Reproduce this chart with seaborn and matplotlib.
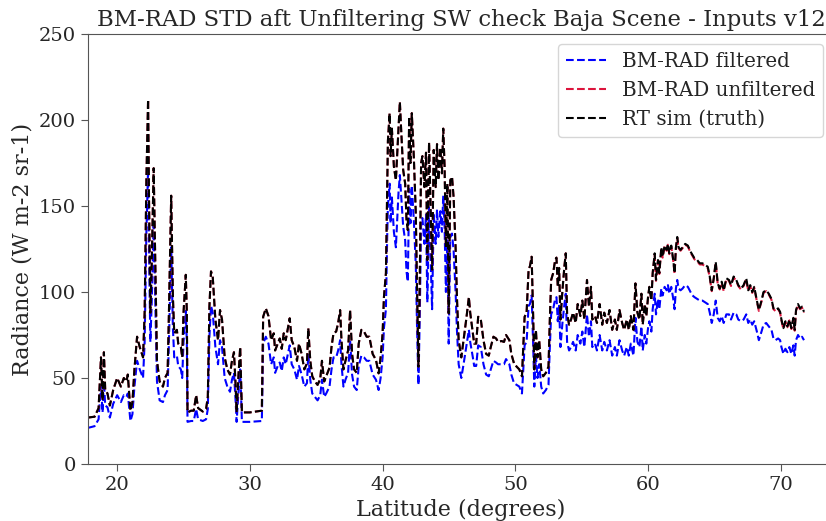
import matplotlib
matplotlib.use("Agg")
import matplotlib.pyplot as plt
import seaborn as sns
import pandas as pd

latitude = [17.8, 18.3, 18.6, 18.78, 18.9, 19.0, 19.1, 19.27, 19.45, 19.7, 20.0, 20.28, 20.5, 20.7, 20.8, 21.0, 21.15, 21.3, 21.5, 21.7,
            21.95, 22.07, 22.2, 22.33, 22.4, 22.5, 22.6, 22.75, 22.87, 23.0, 23.2, 23.45, 23.6, 23.8, 23.9, 24.07, 24.2, 24.3, 24.5, 24.6,
            24.8, 24.9, 25.0, 25.17, 25.25, 25.3, 25.57, 25.77, 25.95, 26.1, 26.45, 26.7, 26.83, 26.95, 27.07, 27.2, 27.4, 27.6, 27.75, 27.9,
            28.1, 28.3, 28.5, 28.65, 28.8, 28.93, 29.0, 29.15, 29.27, 29.4, 30.0, 30.9, 31.0, 31.2, 31.4, 31.6, 31.8, 31.9, 32.1, 32.25,
            32.4, 32.55, 32.7, 33.0, 33.15, 33.35, 33.55, 33.7, 33.9, 34.1, 34.3, 34.4, 34.55, 34.7, 34.9, 35.1, 35.3, 35.43, 35.6, 35.75,
            36.0, 36.15, 36.3, 36.5, 36.65, 36.8, 36.9, 37.05, 37.2, 37.4, 37.55, 37.7, 37.85, 38.05, 38.2, 38.4, 38.6, 38.8, 39.0, 39.25,
            39.5, 39.7, 39.85, 40.0, 40.1, 40.25, 40.35, 40.4, 40.53, 40.6, 40.7, 40.85, 41.0, 41.2, 41.3, 41.4, 41.55, 41.7, 41.8, 41.9,
            42.0, 42.1, 42.2, 42.35, 42.5, 42.6, 42.7, 42.8, 42.9, 43.0, 43.15, 43.27, 43.37, 43.5, 43.63, 43.73, 43.85, 44.0, 44.1, 44.2,
            44.35, 44.47, 44.57, 44.67, 44.77, 44.88, 44.98, 45.1, 45.23, 45.35, 45.5, 45.6, 45.73, 45.93, 46.1, 46.3, 46.5, 46.6, 46.8, 46.9,
            47.05, 47.2, 47.4, 47.6, 47.8, 48.0, 48.15, 48.35, 48.55, 48.7, 48.95, 49.15, 49.3, 49.55, 49.7, 49.9, 50.1, 50.3, 50.5, 50.6,
            50.7, 50.85, 51.0, 51.1, 51.23, 51.35, 51.43, 51.55, 51.67, 51.8, 51.95, 52.1, 52.3, 52.5, 52.6, 52.7, 52.85, 53.0, 53.1, 53.2,
            53.3, 53.4, 53.55, 53.7, 53.8, 53.9, 54.05, 54.2, 54.35, 54.55, 54.7, 54.9, 55.05, 55.2, 55.4, 55.55, 55.7, 55.8, 56.0, 56.15,
            56.35, 56.55, 56.7, 56.9, 57.1, 57.3, 57.5, 57.65, 57.85, 58.05, 58.2, 58.4, 58.55, 58.7, 58.9, 59.05, 59.2, 59.35, 59.5, 59.6,
            59.75, 59.87, 60.0, 60.1, 60.25, 60.35, 60.5, 60.6, 60.75, 60.85, 61.0, 61.1, 61.25, 61.4, 61.5, 61.6, 61.75, 61.9, 62.0, 62.1,
            62.2, 62.3, 62.45, 62.6, 62.8, 63.0, 63.2, 63.35, 63.5, 63.7, 63.9, 64.1, 64.3, 64.5, 64.65, 64.8, 64.95, 65.1, 65.25, 65.4,
            65.55, 65.7, 65.9, 66.1, 66.25, 66.45, 66.65, 66.8, 67.0, 67.2, 67.4, 67.55, 67.7, 67.85, 68.0, 68.2, 68.35, 68.55, 68.7, 68.9,
            69.1, 69.3, 69.45, 69.6, 69.8, 69.95, 70.05, 70.2, 70.35, 70.5, 70.65, 70.8, 70.95, 71.05, 71.15, 71.3, 71.45, 71.6, 71.75]

rt_sim_truth = [27, 27.5, 32.5, 62, 37, 65, 43, 41, 34, 43, 50, 45, 50, 48, 52, 31, 36, 55, 74, 68,
                62, 88, 165, 212, 155, 88, 115, 172, 117, 60, 48, 45, 50, 53, 88, 156, 97, 76, 78, 70,
                68, 62, 88, 110, 88, 30, 31, 31, 40, 32.5, 30.5, 32, 39, 91.5, 112, 109, 84, 72, 89.5, 84,
                62, 55, 52, 60, 65, 45, 30, 53, 68, 30, 30, 31, 85.6, 90.5, 86, 72, 76, 66, 70, 73,
                67, 76, 72, 84.7, 72, 68, 60, 70, 64, 55, 58.5, 79, 60, 51, 48, 46, 49.4, 60, 48, 51,
                56, 68, 76, 77, 82, 89.5, 72, 55, 60, 66, 89.5, 64, 55, 53, 70, 78, 77, 74, 74, 64,
                60.5, 52.7, 62, 76, 97, 111, 165, 188, 204, 179, 195, 173, 165, 196, 210.6, 194, 171, 163, 142, 136,
                202, 175, 204, 179, 146, 99, 56.6, 107, 175, 179, 161, 181, 118.6, 187, 146, 113, 182.6, 161, 186, 165,
                184, 169, 195, 173, 126, 163, 87.6, 165, 167, 155, 126, 97, 72, 62, 72, 84, 97, 88, 76, 70,
                70, 85.6, 84, 72, 64, 63, 68, 74, 73, 71, 71.5, 71, 75, 72, 64, 58.5, 56.6, 55, 51, 68,
                85.6, 88, 113, 115, 120.5, 84, 55, 78, 62, 72, 55, 51, 53, 56.6, 84, 107, 111, 118.6, 120, 103,
                114, 84, 101, 115, 122.5, 87.6, 81, 84, 88, 82, 93, 86, 95, 84, 107, 91.5, 103, 84, 86, 82,
                93, 81, 88, 82, 89.5, 78, 84, 78, 89.5, 82, 78, 84, 78, 86, 78, 105, 88, 84, 99, 81,
                93, 86, 97, 103, 95, 111, 122.5, 107, 118.6, 111, 126, 120.5, 127, 124.5, 128, 122.5, 127, 118.6, 111, 126,
                132, 126, 124.5, 126, 128, 127, 123.5, 121.5, 119.6, 118.6, 116.7, 116.7, 115.7, 114.7, 109, 101, 108, 117.6, 105, 102,
                106, 101, 108, 107, 104, 109, 107, 104, 102, 104, 108, 101, 104, 100, 103, 95, 89.5, 95, 100, 101,
                99, 96, 90.5, 89.5, 90.5, 88.5, 84, 79, 83, 80, 84, 79, 85, 78, 89.5, 93, 90.5, 91.5, 88.5]

bm_rad_unfiltered = [27, 27.5, 32.5, 62, 37, 65, 43, 41, 34, 43, 50, 45, 50, 48, 52, 31, 36, 55, 74, 68,
                     62, 88, 165, 212, 155, 88, 115, 172, 117, 60, 48, 45, 50, 53, 88, 156, 97, 76, 78, 70,
                     68, 62, 88, 110, 88, 30, 31, 31, 40, 32.5, 30.5, 32, 39, 91.5, 112, 109, 84, 72, 89.5, 84,
                     62, 55, 52, 60, 65, 45, 30, 53, 68, 30, 30, 31, 85.6, 90.5, 86, 72, 76, 66, 70, 73,
                     67, 76, 72, 84.7, 72, 68, 60, 70, 64, 55, 58.5, 79, 60, 51, 48, 46, 49.4, 60, 48, 51,
                     56, 68, 76, 77, 82, 89.5, 72, 55, 60, 66, 89.5, 64, 55, 53, 70, 78, 77, 74, 74, 64,
                     60.5, 52.7, 62, 76, 97, 111, 165, 188, 204, 179, 195, 173, 165, 196, 210.6, 194, 171, 163, 142, 136,
                     202, 175, 204, 179, 146, 99, 56.6, 107, 175, 179, 161, 181, 118.6, 187, 146, 113, 182.6, 161, 186, 165,
                     184, 169, 195, 173, 126, 163, 87.6, 165, 167, 155, 126, 97, 72, 62, 72, 84, 97, 88, 76, 70,
                     70, 85.6, 84, 72, 64, 63, 68, 74, 73, 71, 71.5, 71, 75, 72, 64, 58.5, 56.6, 55, 51, 68,
                     85.6, 88, 113, 115, 120.5, 84, 55, 78, 62, 72, 55, 51, 53, 56.6, 84, 107, 111, 118.6, 120, 103,
                     114, 84, 101, 115, 122.5, 87.6, 81, 84, 88, 82, 93, 86, 95, 84, 107, 91.5, 103, 84, 86, 82,
                     93, 81, 88, 82, 89.5, 78, 84, 78, 89.5, 82, 78, 84, 78, 86, 78, 105, 88, 84, 99, 81,
                     93, 86, 97, 103, 95, 111, 122, 106.5, 118, 110.5, 125.5, 120, 126.5, 124, 127.5, 122, 126.5, 118, 110.5, 125.5,
                     131.5, 125.5, 124, 125.5, 127.5, 126.5, 123, 121, 119, 118, 116, 116, 115, 114, 108.5, 100.5, 107.5, 117, 104.5, 101.5,
                     105.5, 100.5, 107.5, 106.5, 103.5, 108.5, 106.5, 103.5, 101.5, 103.5, 107.5, 100.5, 103.5, 99.5, 102.5, 94.5, 89, 94.5, 99.5, 100.5,
                     98.5, 95.5, 90, 89, 90, 88, 83.5, 78.5, 82.5, 79.5, 83.5, 78.5, 84.5, 77.5, 89, 92.5, 90, 91, 88]

bm_rad_filtered = [21, 22, 26, 46, 30, 48, 34, 33, 27, 35, 40, 36, 40, 39, 41, 25, 29, 45, 60, 55,
                   50, 71, 134, 172, 126, 71, 93, 139, 95, 48, 37, 36, 40, 43, 71, 126, 79, 62, 63, 57,
                   55, 50, 71, 89, 71, 24.5, 25, 25, 32, 26, 25, 26, 32, 74, 92, 88, 68, 58, 72, 68,
                   50, 45, 42, 49, 53, 36, 24.5, 43, 55, 24.5, 24.5, 25, 70, 74, 70, 58, 62, 53, 57, 59,
                   54, 62, 58, 69, 58, 55, 49, 57, 52, 45, 47, 64, 49, 41, 39, 37, 40, 49, 39, 41,
                   45, 55, 62, 62, 66, 72, 58, 45, 49, 53, 72, 52, 45, 43, 57, 63, 62, 60, 60, 52,
                   49, 43, 50, 62, 79, 90, 134, 150, 163, 140, 155, 135, 126, 158, 168, 156, 138, 130, 112, 106,
                   160, 140, 162, 142, 116, 78, 46, 86, 140, 143, 128, 145, 94, 150, 116, 90, 146, 128, 148, 132,
                   147, 135, 156, 138, 100, 130, 70, 132, 134, 124, 100, 78, 58, 50, 58, 68, 78, 71, 62, 57,
                   57, 69, 68, 58, 52, 51, 55, 60, 59, 58, 58, 58, 61, 58, 52, 47, 46, 45, 41, 55,
                   69, 71, 92, 93, 98, 68, 45, 63, 50, 58, 45, 41, 43, 46, 68, 87, 90, 96, 97, 83,
                   92, 68, 82, 93, 99, 71, 66, 68, 71, 66, 75, 70, 77, 68, 87, 74, 83, 68, 70, 66,
                   75, 66, 71, 66, 72, 63, 68, 63, 72, 66, 63, 68, 63, 70, 63, 85, 71, 68, 80, 66,
                   75, 70, 79, 83, 77, 90, 99, 87, 96, 90, 102, 98, 103, 101, 104, 99, 103, 96, 90, 102,
                   107, 102, 101, 102, 104, 103, 100, 98, 97, 96, 95, 95, 94, 93, 88, 82, 87, 95, 85, 83,
                   86, 82, 87, 87, 84, 88, 87, 84, 83, 84, 87, 82, 84, 81, 83, 77, 72, 77, 81, 82,
                   80, 78, 73, 72, 73, 72, 68, 64, 67, 65, 68, 64, 69, 63, 72, 75, 73, 74, 72]

series_labels = ["BM-RAD filtered", "BM-RAD unfiltered", "RT sim (truth)"]
series_colors = ["blue", "crimson", "black"]
x_ticks = [20, 30, 40, 50, 60, 70]
y_ticks = [0, 50, 100, 150, 200, 250]

sns.set_style("ticks")
plt.rcParams["font.family"] = ["DejaVu Serif"]

df = pd.DataFrame({
    "lat": latitude * 3,
    "rad": bm_rad_filtered + bm_rad_unfiltered + rt_sim_truth,
    "series": [series_labels[0]] * len(latitude) + [series_labels[1]] * len(latitude) + [series_labels[2]] * len(latitude),
})

fig = plt.figure(figsize=(8.26, 5.21), dpi=100)
ax = fig.add_axes([0.1065, 0.1094, 0.903, 0.8253])
sns.lineplot(data=df, x="lat", y="rad", hue="series", hue_order=series_labels,
             palette=series_colors, linestyle="--", linewidth=1.5, ax=ax, sort=False,
             estimator=None)

ax.set_xlim(17.8, 74.0)
ax.set_ylim(0, 250)
ax.set_xticks(x_ticks)
ax.set_yticks(y_ticks)
ax.tick_params(labelsize=14, length=5, color="#555555")
for s in ax.spines.values():
    s.set_color("#555555")
ax.spines["right"].set_visible(False)
ax.set_xlabel("Latitude (degrees)", fontsize=16)
ax.set_ylabel("Radiance (W m-2 sr-1)", fontsize=16)
ax.set_title("BM-RAD STD aft Unfiltering SW check Baja Scene - Inputs v12", fontsize=16.4)
leg = ax.legend(fontsize=14.3, loc="upper right", bbox_to_anchor=(0.9853, 0.9767),
                borderaxespad=0, handlelength=2.0)
for h in leg.get_lines():
    h.set_linestyle("--")

fig.savefig("out.png", dpi=100)
